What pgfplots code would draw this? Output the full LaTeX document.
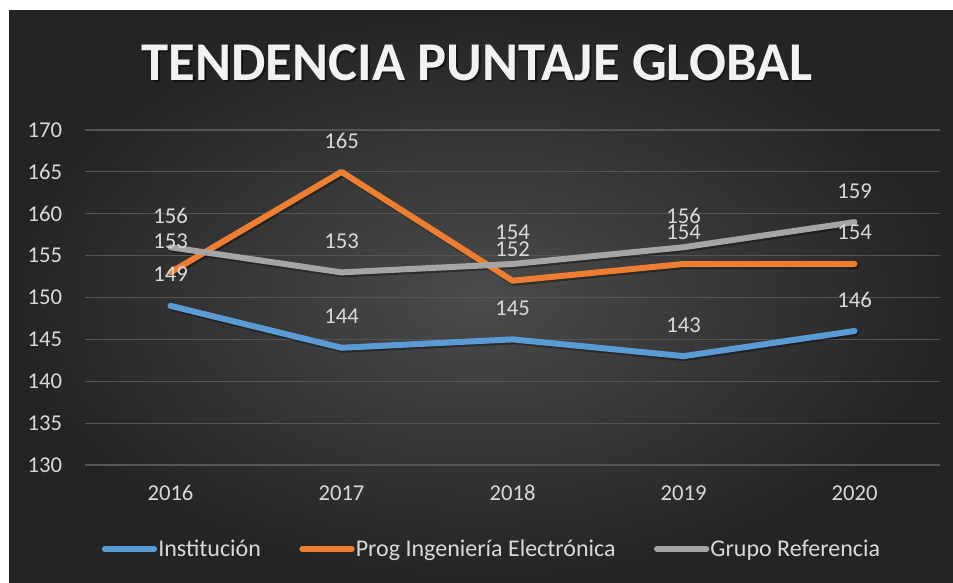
\documentclass[border=0pt]{standalone}
\usepackage{fontspec}
\setmainfont{Carlito}
\usepackage{pgfplots}
\usepackage{pgfplotstable}
\pgfplotsset{compat=1.18}

\definecolor{bgin}{RGB}{75,75,75}
\definecolor{bgout}{RGB}{36,36,36}
\definecolor{txt}{RGB}{217,217,217}
\definecolor{gridc}{RGB}{85,85,85}
\definecolor{cblue}{RGB}{91,155,213}
\definecolor{corange}{RGB}{237,125,49}
\definecolor{cgray}{RGB}{165,165,165}

% x: 0=2016 ... 4=2020
\pgfplotstableread{
x y
0 149
1 144
2 145
3 143
4 146
}\institucion
\pgfplotstableread{
x y
0 153
1 165
2 152
3 154
4 154
}\programa
\pgfplotstableread{
x y
0 156
1 153
2 154
3 156
4 159
}\referencia

\begin{document}
\begin{tikzpicture}
    \useasboundingbox (0,0) rectangle (714.75pt,436.5pt);
    \fill[white] (0,0) rectangle (714.75pt,436.5pt);
    \shade[inner color=bgin, outer color=bgout] (6.75pt,0) rectangle (714.75pt,428.25pt);

    % title with a soft shadow
    \node[text=black, opacity=0.5, font=\fontsize{41}{48}\selectfont\bfseries] at (359pt,388pt) {TENDENCIA PUNTAJE GLOBAL};
    \node[text={rgb,255:red,242;green,242;blue,242}, font=\fontsize{41}{48}\selectfont\bfseries] at (357.75pt,389.5pt) {TENDENCIA PUNTAJE GLOBAL};

    \begin{axis}[
        at={(63.75pt,87.75pt)}, anchor=south west,
        scale only axis,
        width=641.25pt, height=251.25pt,
        xmin=-0.5, xmax=4.5,
        ymin=130, ymax=170,
        xtick={0,1,2,3,4},
        xticklabels={2016,2017,2018,2019,2020},
        ytick={130,135,...,170},
        axis line style={draw=none},
        major tick length=0pt,
        ymajorgrids,
        grid style={gridc, line width=0.8pt},
        /pgf/number format/assume math mode=true,
        /pgf/number format/1000 sep={},
        tick label style={text=txt, font=\fontsize{17}{20}\selectfont},
        xticklabel style={anchor=center, yshift=-21pt},
        yticklabel style={anchor=east, inner sep=0pt, xshift=-17pt},
        clip=false,
        legend columns=3,
        legend style={at={(0.4754,-0.2507)}, anchor=center, draw=none, fill=none,
            text=txt, font=\fontsize{18}{21}\selectfont,
            nodes={inner sep=0.8pt},
            /tikz/every even column/.append style={column sep=28pt}},
        legend image code/.code={\draw[#1, line cap=round] (2pt,0pt) -- (39pt,0pt);},
        every node near coord/.append style={anchor=center, yshift=23.5pt, text=txt,
            font=\fontsize{17}{20}\selectfont},
    ]
    % shadows
    \addplot[black, opacity=0.35, line width=4.5pt, line cap=round, line join=round, xshift=1pt, yshift=-1.5pt, forget plot] table[x=x,y=y] {\institucion};
    \addplot[black, opacity=0.35, line width=4.5pt, line cap=round, line join=round, xshift=1pt, yshift=-1.5pt, forget plot] table[x=x,y=y] {\programa};
    \addplot[black, opacity=0.35, line width=4.5pt, line cap=round, line join=round, xshift=1pt, yshift=-1.5pt, forget plot] table[x=x,y=y] {\referencia};

    \addplot[cblue, line width=4.5pt, line cap=round, line join=round, nodes near coords] table[x=x,y=y] {\institucion};
    \addlegendentry{Institución}
    \addplot[corange, line width=4.5pt, line cap=round, line join=round, nodes near coords] table[x=x,y=y] {\programa};
    \addlegendentry{Prog Ingeniería Electrónica}
    \addplot[cgray, line width=4.5pt, line cap=round, line join=round, nodes near coords] table[x=x,y=y] {\referencia};
    \addlegendentry{Grupo Referencia}
    \end{axis}
\end{tikzpicture}
\end{document}
